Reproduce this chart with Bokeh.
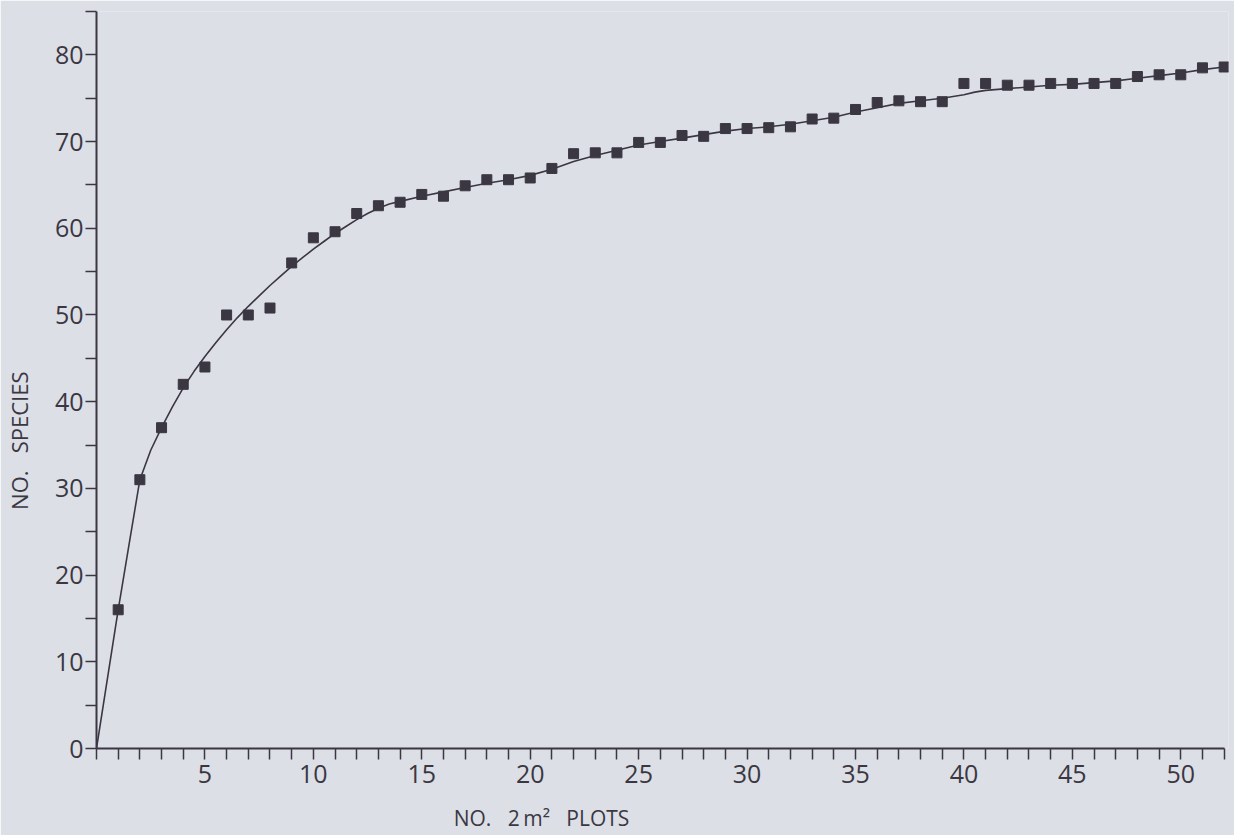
from bokeh.plotting import figure
from bokeh.models import Range1d, FixedTicker
from bokeh.embed import file_html
from bokeh.resources import INLINE

# observed points: number of 2 m^2 plots vs cumulative species
plots = list(range(1, 53))
species = [16, 31, 37, 42, 44, 50, 50, 50.8, 56, 58.9, 59.6, 61.7, 62.6, 63.0, 63.9, 63.7,
           64.9, 65.6, 65.6, 65.8, 66.9, 68.6, 68.7, 68.7, 69.9, 69.9, 70.7, 70.6, 71.5, 71.5,
           71.6, 71.7, 72.6, 72.7, 73.7, 74.5, 74.7, 74.6, 74.6, 76.7, 76.7, 76.5, 76.5, 76.7,
           76.7, 76.7, 76.7, 77.5, 77.7, 77.7, 78.5, 78.6]

# fitted curve
curve_x = [0, 0.5, 1, 1.5, 2, 2.5, 3, 3.5, 4, 4.5, 5, 5.5, 6, 6.5, 7, 7.5, 8, 8.5, 9, 9.5,
           10, 10.5, 11, 11.5, 12, 12.5, 13, 13.5, 14, 15, 16, 17, 18, 19, 20, 21, 22, 23, 24,
           25, 26, 27, 28, 29, 30, 31, 32, 33, 34, 35, 36, 37, 38, 39, 40, 40.5, 41, 42, 43, 44,
           45, 46, 47, 48, 49, 50, 51, 52]
curve_y = [0, 8, 16, 23.5, 31, 34.4, 37, 39.4, 41.6, 43.5, 45.2, 46.8, 48.3, 49.7, 51.0, 52.2,
           53.4, 54.5, 55.6, 56.6, 57.6, 58.5, 59.4, 60.2, 61.0, 61.7, 62.3, 62.8, 63.1, 63.7,
           64.2, 64.7, 65.2, 65.6, 66.1, 66.8, 67.7, 68.4, 69.0, 69.6, 70.0, 70.4, 70.8, 71.2,
           71.5, 71.7, 72.0, 72.4, 72.8, 73.4, 73.9, 74.4, 74.7, 75.0, 75.4, 75.7, 75.9, 76.1,
           76.3, 76.5, 76.6, 76.8, 77.0, 77.3, 77.6, 77.9, 78.3, 78.6]

x_ticks = list(range(0, 53))
x_labels = {5: "5", 10: "10", 15: "15", 20: "20", 25: "25", 30: "30", 35: "35", 40: "40", 45: "45", 50: "50"}
y_ticks = list(range(0, 90, 5))
y_labels = {0: "0", 10: "10", 20: "20", 30: "30", 40: "40", 50: "50", 60: "60", 70: "70", 80: "80"}

NB = "\u00a0"
EM = "\u2003"
# trailing blank space shifts the centred titles to where the original prints them
x_title = "NO." + NB * 3 + "2\u2009m²" + NB * 3 + "PLOTS" + EM * 11 + NB * 2
y_title = "NO." + NB * 3 + "SPECIES" + EM * 5 + NB * 2

BG = "#dcdfe6"
INK = "#3b3742"
FONT = "Open Sans"

p = figure(width=1234, height=835, output_backend="svg", toolbar_location=None,
           x_range=Range1d(0, 52.2), y_range=Range1d(0, 85),
           min_border_left=96, min_border_right=6, min_border_top=11, min_border_bottom=87)
p.background_fill_color = BG
p.border_fill_color = BG
p.outline_line_color = None
p.grid.visible = False

for ax in (p.xaxis[0], p.yaxis[0]):
    ax.axis_line_color = INK
    ax.axis_line_width = 2
    ax.major_tick_line_color = INK
    ax.major_tick_line_width = 1.5
    ax.major_tick_in = 0
    ax.minor_tick_line_color = None
    ax.major_label_text_font = FONT
    ax.major_label_text_font_size = "25px"
    ax.major_label_text_color = INK
    ax.axis_label_text_font = FONT
    ax.axis_label_text_font_style = "normal"
    ax.axis_label_text_color = INK

xa = p.xaxis[0]
xa.ticker = FixedTicker(ticks=x_ticks)
xa.major_label_overrides = {t: x_labels.get(t, "") for t in x_ticks}
xa.major_tick_out = 11
xa.major_label_standoff = 5
xa.bounds = (0, 52)
xa.axis_label = x_title
xa.axis_label_text_font_size = "21px"
xa.axis_label_standoff = 18

ya = p.yaxis[0]
ya.ticker = FixedTicker(ticks=y_ticks)
ya.major_label_overrides = {t: y_labels.get(t, "") for t in y_ticks}
ya.major_tick_out = 11
ya.major_label_standoff = 2
ya.major_label_orientation = "horizontal"
ya.axis_label = y_title
ya.axis_label_text_font_size = "22px"
ya.axis_label_standoff = 18

p.line(curve_x, curve_y, line_color=INK, line_width=1.6)
p.scatter(plots, species, marker="square", size=10, fill_color=INK, line_color=INK)

html = file_html(p, INLINE)
html = html.replace("<body>", '<body style="background:%s">' % BG, 1)
open("out.html", "w").write(html)
